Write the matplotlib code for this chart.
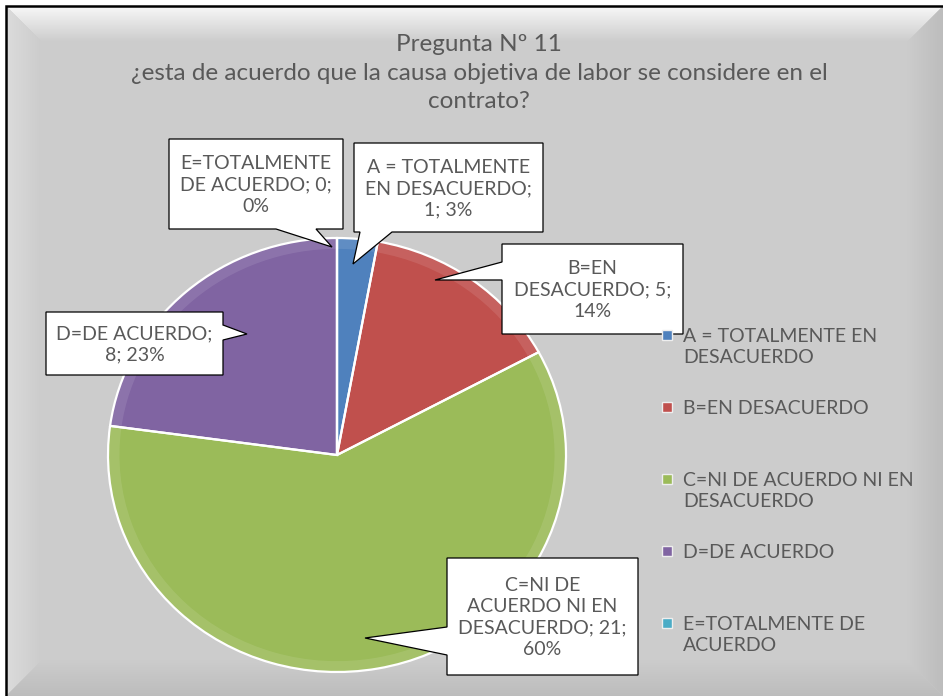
import textwrap
import matplotlib
matplotlib.use("Agg")
import matplotlib.pyplot as plt
import numpy as np
from matplotlib.patches import Polygon, Rectangle

# data
categories = ["A = TOTALMENTE EN DESACUERDO", "B=EN DESACUERDO",
              "C=NI DE ACUERDO NI EN DESACUERDO", "D=DE ACUERDO",
              "E=TOTALMENTE DE ACUERDO"]
values = [1, 5, 21, 8, 0]
colors = ["#4F81BD", "#C0504D", "#9BBB59", "#8064A2", "#4BACC6"]
title = "Pregunta Nº 11\n¿esta de acuerdo que la causa objetiva de labor se considere en el\ncontrato?"

# callout names as wrapped in the boxes, and where the value break goes
callout_names = ["A = TOTALMENTE\nEN DESACUERDO", "B=EN\nDESACUERDO",
                 "C=NI DE\nACUERDO NI EN\nDESACUERDO", "D=DE ACUERDO",
                 "E=TOTALMENTE\nDE ACUERDO"]
callout_fmt = ["{n};\n{v}; {p}%", "{n}; {v};\n{p}%", "{n}; {v};\n{p}%",
               "{n};\n{v}; {p}%", "{n}; {v};\n{p}%"]

plt.rcParams["font.family"] = ["Lato", "DejaVu Sans"]
TXT = "#595959"
W, H = 943, 696

fig = plt.figure(figsize=(9.43, 6.96), dpi=100)
fig.patch.set_facecolor("white")
bg = fig.add_axes([0, 0, 1, 1])
bg.set_xlim(0, W)
bg.set_ylim(H, 0)
bg.axis("off")


def grad(pts, c0, c1, horizontal=False):
    xs = [p[0] for p in pts]
    ys = [p[1] for p in pts]
    t = np.linspace(0, 1, 64)
    col = np.outer(1 - t, c0) + np.outer(t, c1)
    if horizontal:
        img = col[np.newaxis, :, :]
    else:
        img = col[:, np.newaxis, :]
    im = bg.imshow(img, extent=(min(xs), max(xs), max(ys), min(ys)),
                   origin="upper", aspect="auto", interpolation="bilinear", zorder=1)
    poly = Polygon(pts, closed=True, transform=bg.transData)
    im.set_clip_path(poly)


g = np.array([0.80, 0.80, 0.80])
bg.add_patch(Rectangle((6, 6), W, H, facecolor=g, edgecolor="none", zorder=0))
bw = 36
grad([(6, 6), (W, 6), (W - bw, 6 + bw), (6 + bw, 6 + bw)], [0.97] * 3, g)
grad([(6, 6), (6 + bw, 6 + bw), (6 + bw, H - bw), (6, H)], [0.86] * 3, g, horizontal=True)
grad([(W, 6), (W, H), (W - bw, H - bw), (W - bw, 6 + bw)], g, [0.74] * 3, horizontal=True)
grad([(6, H), (W, H), (W - bw, H - bw), (6 + bw, H - bw)], g, [0.74] * 3)
bg.plot([6, 6, W], [H, 6, 6], color="black", lw=1.8, zorder=2, solid_joinstyle="miter")

# title
fig.text(479 / W, 1 - 73 / H, title, ha="center", va="center", fontsize=17.5,
         color=TXT, linespacing=1.42)

# pie
cx, cy, rx, ry = 337, 455, 229, 217
pax = fig.add_axes([(cx - rx) / W, (H - cy - ry) / H, 2 * rx / W, 2 * ry / H])
pax.pie(values, colors=colors, startangle=90, counterclock=False,
        wedgeprops=dict(edgecolor="none"))
# soft lighter rim like the bevelled Excel pie
pax.pie(values, colors=["white"] * len(values), startangle=90, counterclock=False,
        wedgeprops=dict(width=0.05, edgecolor="none", alpha=0.1))
pax.pie(values, colors=["none"] * len(values), startangle=90, counterclock=False,
        wedgeprops=dict(edgecolor="white", linewidth=1.6))
pax.set_aspect("auto")
pax.set_xlim(-1, 1)
pax.set_ylim(-1, 1)
pax.axis("off")

# callouts
ov = fig.add_axes([0, 0, 1, 1])
ov.set_xlim(0, W)
ov.set_ylim(H, 0)
ov.axis("off")
ov.patch.set_alpha(0)

boxes = [(354, 143, 543, 232), (502, 244, 683, 334), (447, 558, 638, 675),
         (46, 312, 223, 375), (169, 139, 343, 229)]
sides = ["bottom", "left", "left", "right", "bottom"]
bases = [(360, 392), (262, 280), (627, 655), (325, 340), (276, 316)]
tips = [(353, 264), (435, 280), (365, 638), (247, 334), (332, 247)]

total = sum(values)
for i in range(len(values)):
    x0, y0, x1, y1 = boxes[i]
    b0, b1 = bases[i]
    tp = tips[i]
    pts = [(x0, y0), (x1, y0)]
    if sides[i] == "right":
        pts += [(x1, b0), tp, (x1, b1)]
    pts.append((x1, y1))
    if sides[i] == "bottom":
        pts += [(b1, y1), tp, (b0, y1)]
    pts.append((x0, y1))
    if sides[i] == "left":
        pts += [(x0, b1), tp, (x0, b0)]
    ov.add_patch(Polygon(pts, closed=True, facecolor="white", edgecolor="black",
                         lw=0.9, zorder=5))
    pct = round(100 * values[i] / total)
    txt = callout_fmt[i].format(n=callout_names[i], v=values[i], p=pct)
    ov.text((x0 + x1) / 2, (y0 + y1) / 2 + 1, txt, ha="center", va="center",
            fontsize=14, color=TXT, linespacing=1.3, zorder=6)

# legend
for i, cat in enumerate(categories):
    y = 335 + 72 * i
    ov.add_patch(Rectangle((662, y - 5), 10, 10, facecolor=colors[i],
                           edgecolor="#eeeeee", lw=1, zorder=5))
    ov.text(683, y - 7, textwrap.fill(cat, 21), ha="left", va="top",
            fontsize=14, color=TXT, linespacing=1.3, zorder=6)

fig.savefig("out.png", dpi=100)
